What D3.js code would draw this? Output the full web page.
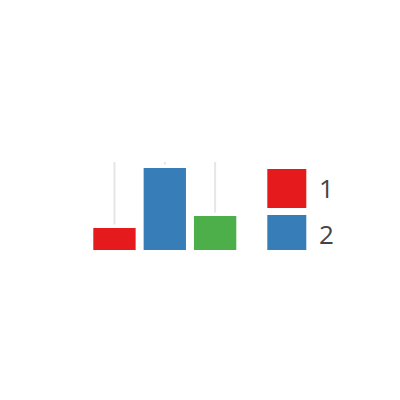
<!DOCTYPE html>
<html><head><meta charset="utf-8">
<script src="https://cdn.jsdelivr.net/npm/d3@7"></script>
<style>body{margin:0;background:#fff}svg{display:block}</style>
</head><body>
<script>
const categories = ["a", "b", "c"];
const values = [22, 82, 34];
const rangeTop = [88, 88, 88];
const colors = ["#e41a1c", "#377eb8", "#4daf4a"];
const legendLabels = ["1", "2"];
const legendColors = ["#e41a1c", "#377eb8"];

const svg = d3.select("body").append("svg").attr("width", 400).attr("height", 400);
const x = d3.scaleBand().domain(categories).range([93.3, 236.3]).paddingInner(0.159).paddingOuter(0);
const y = d3.scaleLinear().domain([0, 100]).range([250, 150]);

svg.append("clipPath").attr("id", "lc").append("rect")
  .attr("x", 0).attr("y", 0).attr("width", 400).attr("height", 250);

const g = svg.append("g");
g.selectAll("line.rng").data(categories).join("line")
  .attr("class", "rng")
  .attr("x1", d => x(d) + x.bandwidth() / 2)
  .attr("x2", d => x(d) + x.bandwidth() / 2)
  .attr("y1", (d, i) => y(rangeTop[i]))
  .attr("y2", (d, i) => Math.max(y(rangeTop[i]), y(values[i]) - 3.5))
  .attr("stroke", "#e6e6e6").attr("stroke-width", 2);

g.selectAll("rect.bar").data(categories).join("rect")
  .attr("class", "bar")
  .attr("x", d => x(d))
  .attr("width", x.bandwidth())
  .attr("y", (d, i) => y(values[i]))
  .attr("height", (d, i) => y(0) - y(values[i]))
  .attr("fill", (d, i) => colors[i]);

const leg = svg.append("g");
const ly = d3.scaleBand().domain(legendLabels).range([169, 254]).paddingInner(0.152).paddingOuter(0);
leg.selectAll("rect.sw").data(legendLabels).join("rect")
  .attr("class", "sw")
  .attr("x", 267.3).attr("width", 39)
  .attr("y", d => ly(d)).attr("height", ly.bandwidth())
  .attr("fill", (d, i) => legendColors[i])
  .attr("clip-path", "url(#lc)");
leg.selectAll("text.lb").data(legendLabels).join("text")
  .attr("class", "lb")
  .attr("x", 319)
  .attr("y", d => ly(d) + ly.bandwidth() / 2 + 9.3)
  .attr("font-family", "'Open Sans', sans-serif")
  .attr("font-size", 26)
  .attr("fill", "#444")
  .text(d => d);
</script>
</body></html>
